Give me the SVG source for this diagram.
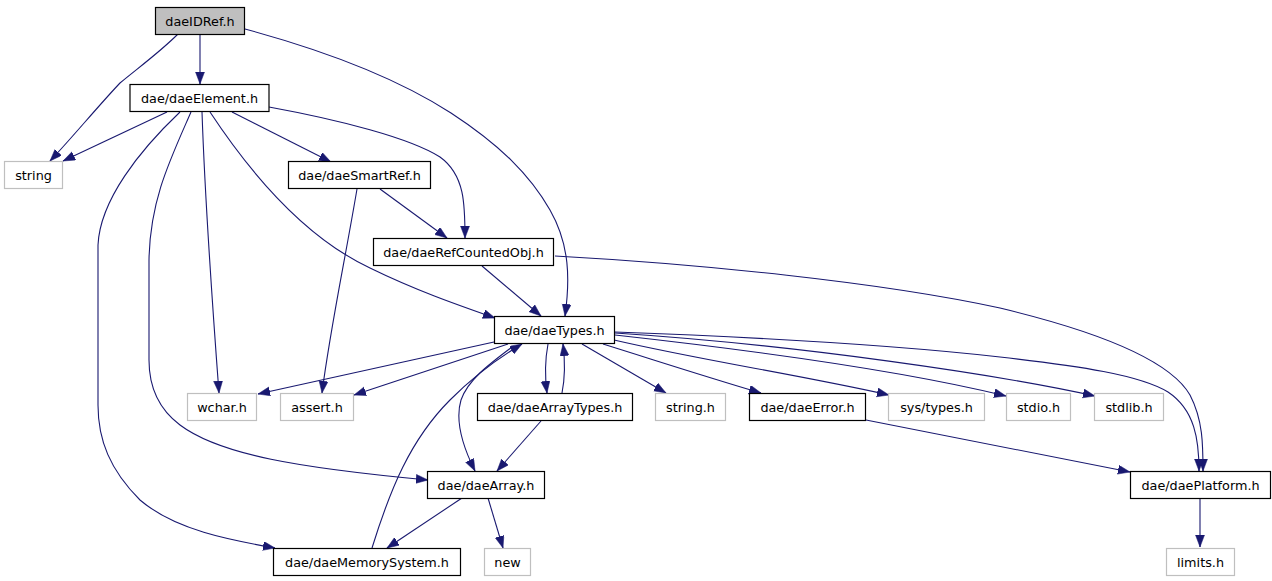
<svg xmlns="http://www.w3.org/2000/svg" width="1272" height="581" viewBox="0 0 1272 581">
<style>
.n rect{fill:#fff;stroke:#000;stroke-width:1.2}
.g rect{fill:#fff;stroke:#bfbfbf;stroke-width:1.2}
.root rect{fill:#bfbfbf;stroke:#000;stroke-width:1.2}
text{font-family:"DejaVu Sans",sans-serif;font-size:12.8px;text-anchor:middle;fill:#000}
#edges path{fill:none;stroke:#191970;stroke-width:1.1;marker-end:url(#ah)}
</style>
<defs>
<marker id="ah" markerUnits="userSpaceOnUse" markerWidth="13" markerHeight="10" refX="12" refY="4.5" orient="auto">
<path d="M0,0 L12,4.5 L0,9 z" fill="#191970" stroke="#191970" stroke-width="0.5"/>
</marker>
</defs>
<rect width="1272" height="581" fill="#fff"/>
<g id="edges">
<path d="M178,34 C160,52 138,68 120,83 C100,104 70,140 50,161"/>
<path d="M200,34 L200,84"/>
<path d="M245,29 C330,52 400,80 451,113 C500,145 530,175 550,210 C570,245 570,280 565,316"/>
<path d="M167,112 L63,161"/>
<path d="M232,112 L331,162"/>
<path d="M269,107 C340,120 410,138 440,157 C465,175 465,205 465,238"/>
<path d="M210,112 C245,165 300,235 370,268 C415,290 455,304 495,318"/>
<path d="M202,112 C205,200 212,300 219,393"/>
<path d="M191,112 C170,160 150,200 149,260 L149,360 C149,390 160,410 180,425 C220,455 300,468 428,480"/>
<path d="M180,112 C140,150 100,200 98,245 L98,405 C98,440 110,470 140,500 C175,530 230,540 275,548"/>
<path d="M357,189 C345,260 330,330 322,393"/>
<path d="M380,189 L447,238"/>
<path d="M482,266 L541,316"/>
<path d="M555,256 C700,264 880,282 1000,308 C1100,332 1170,360 1190,395 C1203,420 1203,445 1203,471"/>
<path d="M494,342 L258,394"/>
<path d="M508,344 L354,395"/>
<path d="M548,344 C545,360 545,378 547,393"/>
<path d="M562,393 C565,378 565,360 563,344"/>
<path d="M512,347 C488,365 468,380 461,400 C455,420 462,445 475,471"/>
<path d="M372,548 C390,490 410,440 450,400 C470,380 495,360 522,344"/>
<path d="M541,421 L497,471"/>
<path d="M462,498 L387,548"/>
<path d="M488,498 L503,548"/>
<path d="M582,344 L666,393"/>
<path d="M603,344 C670,365 710,378 761,393"/>
<path d="M614,340 C700,360 800,375 889,395"/>
<path d="M615,335 C750,350 900,370 1006,396"/>
<path d="M615,333 C800,345 1000,375 1095,396"/>
<path d="M615,332 C780,338 920,348 1000,357 C1080,366 1140,375 1168,392 C1195,410 1199,440 1199,471"/>
<path d="M866,420 L1130,472"/>
<path d="M1200,499 L1200,547"/>
</g>
<g id="daeIDRef" class="root"><rect x="155.5" y="7.5" width="89" height="27"/><text x="200" y="25.5">daeIDRef.h</text></g>
<g id="daeElement" class="n"><rect x="130" y="84.5" width="139" height="27"/><text x="199.5" y="102.5">dae/daeElement.h</text></g>
<g id="string" class="g"><rect x="4.5" y="161.5" width="58" height="27"/><text x="33.5" y="179.5">string</text></g>
<g id="daeSmartRef" class="n"><rect x="288.5" y="161.5" width="142" height="27"/><text x="359.5" y="179.5">dae/daeSmartRef.h</text></g>
<g id="daeRefCountedObj" class="n"><rect x="373.5" y="238.5" width="180" height="27"/><text x="463.5" y="256.5">dae/daeRefCountedObj.h</text></g>
<g id="daeTypes" class="n"><rect x="494.5" y="316.5" width="120" height="27"/><text x="554.5" y="334.5">dae/daeTypes.h</text></g>
<g id="wchar" class="g"><rect x="187.5" y="393.5" width="69" height="27"/><text x="222" y="411.5">wchar.h</text></g>
<g id="assert" class="g"><rect x="280.5" y="393.5" width="73" height="27"/><text x="317" y="411.5">assert.h</text></g>
<g id="daeArrayTypes" class="n"><rect x="477.5" y="393.5" width="155" height="27"/><text x="555" y="411.5">dae/daeArrayTypes.h</text></g>
<g id="stringh" class="g"><rect x="655.5" y="393.5" width="70" height="27"/><text x="690.5" y="411.5">string.h</text></g>
<g id="daeError" class="n"><rect x="749.5" y="393.5" width="116" height="27"/><text x="807.5" y="411.5">dae/daeError.h</text></g>
<g id="systypes" class="g"><rect x="888.5" y="393.5" width="96" height="27"/><text x="936.5" y="411.5">sys/types.h</text></g>
<g id="stdio" class="g"><rect x="1006.5" y="393.5" width="64" height="27"/><text x="1038.5" y="411.5">stdio.h</text></g>
<g id="stdlib" class="g"><rect x="1094.5" y="393.5" width="69" height="27"/><text x="1129" y="411.5">stdlib.h</text></g>
<g id="daeArray" class="n"><rect x="427.5" y="471.5" width="117" height="27"/><text x="486" y="489.5">dae/daeArray.h</text></g>
<g id="daePlatform" class="n"><rect x="1130.5" y="471.5" width="140" height="27"/><text x="1200.5" y="489.5">dae/daePlatform.h</text></g>
<g id="daeMemorySystem" class="n"><rect x="273.5" y="548.5" width="187" height="27"/><text x="367" y="566.5">dae/daeMemorySystem.h</text></g>
<g id="new" class="g"><rect x="484.5" y="548.5" width="46" height="27"/><text x="507.5" y="566.5">new</text></g>
<g id="limits" class="g"><rect x="1166.5" y="548.5" width="68" height="27"/><text x="1200.5" y="566.5">limits.h</text></g>
</svg>
